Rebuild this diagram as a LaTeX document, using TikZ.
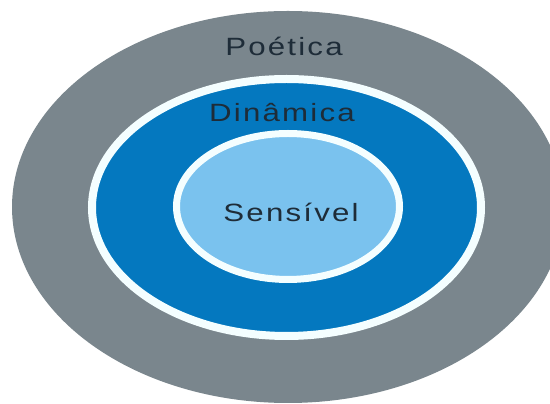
\documentclass[tikz,border=0pt]{standalone}
\usepackage{fontspec}
\setmainfont{Liberation Sans}
\usetikzlibrary{shapes.geometric}
\definecolor{ringgray}{HTML}{7A868D}
\definecolor{midblue}{HTML}{0478BF}
\definecolor{paleblue}{HTML}{7AC2EE}
\definecolor{edgewhite}{HTML}{F4FEFF}
\definecolor{labeltext}{HTML}{1E2C38}
% wide, slightly spaced lettering for the level names
\newcommand{\levelname}[1]{\scalebox{1.25}[1]{\addfontfeature{LetterSpace=7}#1}}
\tikzset{
  ring/.style={ellipse, inner sep=0pt, outer sep=0pt},
  bordered/.style={ring, draw=edgewhite, line width=8pt},
  label text/.style={text=labeltext, inner sep=0pt, anchor=base,
    font=\fontsize{25}{29}\selectfont}
}
\begin{document}
\begin{tikzpicture}[x=1pt, y=1pt]
  \useasboundingbox (0,0) rectangle (550,404);
  \clip (0,0) rectangle (550,404);
  \fill[white] (0,0) rectangle (550,404);
  % three nested levels
  \node[ring, fill=ringgray, minimum width=552pt, minimum height=392pt] (poetica) at (288,197) {};
  \node[bordered, fill=midblue, minimum width=389pt, minimum height=257pt] (dinamica) at (286.5,196.5) {};
  \node[bordered, line width=7pt, fill=paleblue, minimum width=223pt, minimum height=146pt] (sensivel) at (288,197.5) {};
  % level names
  \node[label text] (tpoetica) at (284,348) {\levelname{Poética}};
  \node[label text] (tdinamica) at (282,282) {\levelname{Dinâmica}};
  \node[label text] (tsensivel) at (291,182) {\levelname{Sensível}};
\end{tikzpicture}
\end{document}
